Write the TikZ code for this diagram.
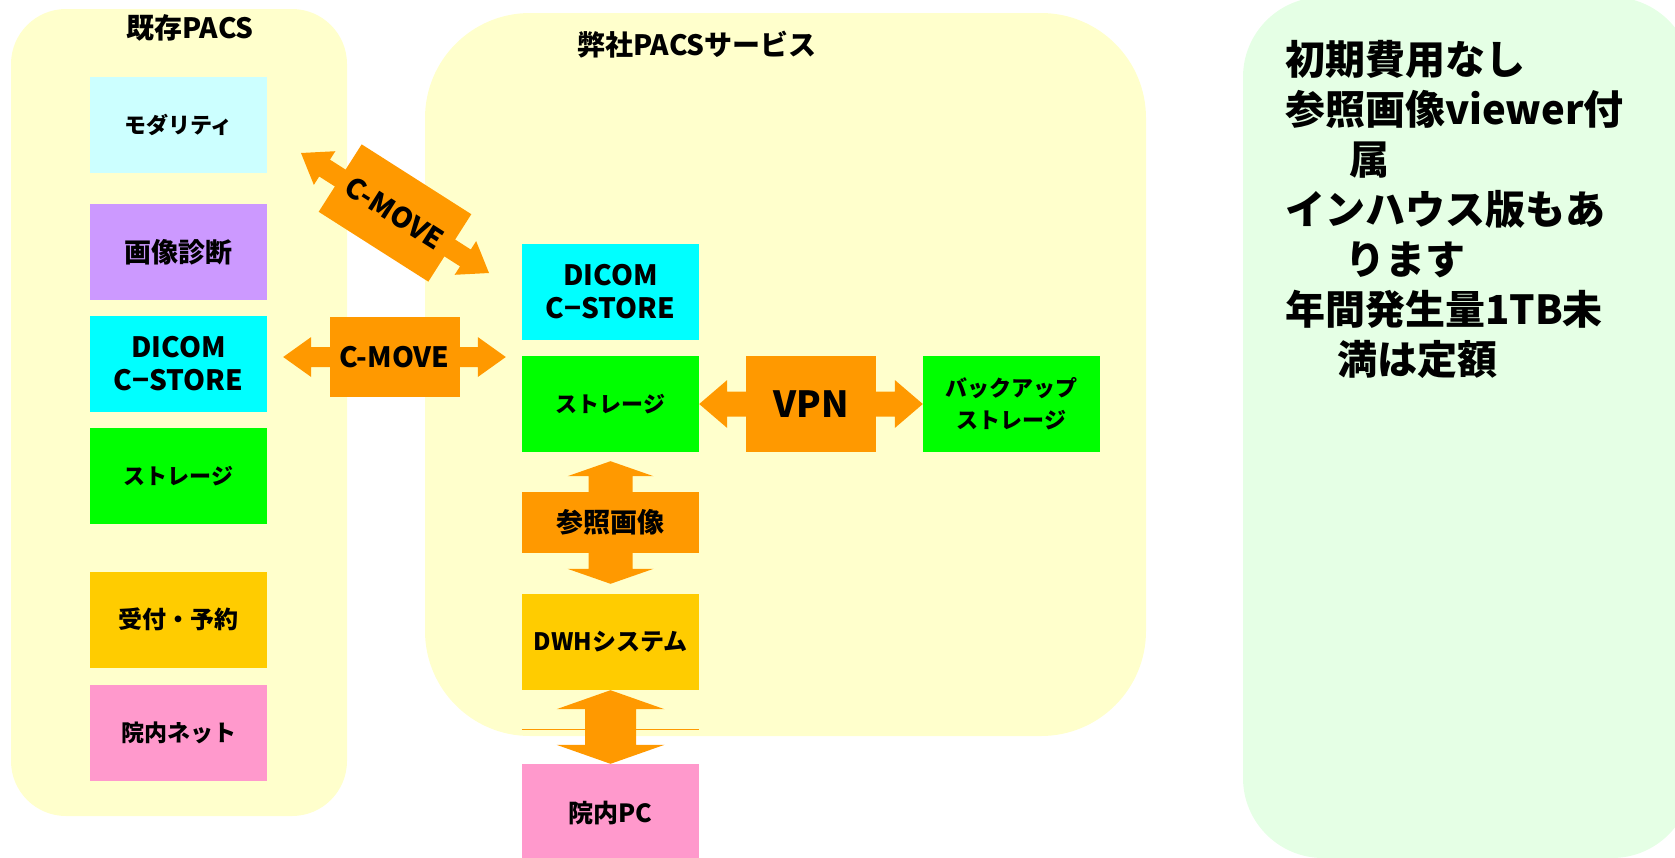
\documentclass[tikz,border=0pt]{standalone}
\usepackage{fontspec}
\setmainfont{Noto Sans CJK JP}
\usepackage{tikz}
\usetikzlibrary{calc}
\definecolor{panelyellow}{RGB}{255,255,204}
\definecolor{panelgreen}{RGB}{229,255,229}
\definecolor{moveorange}{RGB}{255,153,0}
\definecolor{modcyan}{RGB}{204,255,255}
\definecolor{diaglilac}{RGB}{204,153,255}
\definecolor{dicomcyan}{RGB}{0,255,255}
\definecolor{storgreen}{RGB}{0,255,0}
\definecolor{dwhamber}{RGB}{255,204,0}
\definecolor{netpink}{RGB}{255,153,204}
\tikzset{
  unit/.style={rectangle, inner sep=0pt, minimum width=177, minimum height=96,
    align=center, font=\fontsize{22}{32}\selectfont\bfseries},
  dicomtext/.style={font=\fontsize{28}{33}\selectfont\bfseries},
  kanjitext/.style={font=\fontsize{27}{32}\selectfont\bfseries},
  title/.style={font=\fontsize{28}{32}\selectfont\bfseries},
  movebox/.style={fill=moveorange, inner sep=0pt, minimum width=130, minimum height=80,
    font=\fontsize{28}{32}\selectfont\bfseries},
}
% double block arrow between two points: head half width, shaft half width, head length
\newcommand{\blockarrow}[5]{%
  \fill[moveorange] (#1)
    -- ($(#1)!#5!(#2)!#3!90:(#2)$) -- ($(#1)!#5!(#2)!#4!90:(#2)$)
    -- ($(#2)!#5!(#1)!#4!-90:(#1)$) -- ($(#2)!#5!(#1)!#3!-90:(#1)$)
    -- (#2)
    -- ($(#2)!#5!(#1)!#3!90:(#1)$) -- ($(#2)!#5!(#1)!#4!90:(#1)$)
    -- ($(#1)!#5!(#2)!#4!-90:(#2)$) -- ($(#1)!#5!(#2)!#3!-90:(#2)$)
    -- cycle;
}

\begin{document}
\begin{tikzpicture}[x=1pt,y=-1pt]
    \useasboundingbox (0,0) rectangle (1675,857);
    % panels
    \fill[panelyellow, rounded corners=55] (11,9) rectangle (347,816);
    \fill[panelyellow, rounded corners=105] (425,13) rectangle (1146,736);
    \fill[panelgreen, rounded corners=80] (1243,-3) rectangle (1692,858);
    \node[title] (oldtitle) at (190,28) {既存PACS};
    \node[title] (newtitle) at (697,45) {弊社PACSサービス};

    % existing PACS
    \node[unit, fill=modcyan] (modality) at (178.5,124.5) {モダリティ};
    \node[unit, kanjitext, fill=diaglilac] (diagnosis) at (178.5,252) {画像診断};
    \node[unit, dicomtext, fill=dicomcyan] (dicomA) at (178.5,364) {DICOM\\C−STORE};
    \node[unit, fill=storgreen] (storA) at (178.5,476) {ストレージ};
    \node[unit, font=\fontsize{24}{32}\selectfont\bfseries, fill=dwhamber] (reception) at (178.5,619.5) {受付・予約};
    \node[unit, font=\fontsize{23}{32}\selectfont\bfseries, fill=netpink] (lan) at (178.5,732.5) {院内ネット};

    % service side
    \node[unit, dicomtext, fill=dicomcyan] (dicomB) at (610.5,292) {DICOM\\C−STORE};
    \node[unit, fill=storgreen] (storB) at (610.5,404) {ストレージ};
    \node[unit, font=\fontsize{24}{32}\selectfont\bfseries, fill=dwhamber] (dwh) at (610.5,642) {DWHシステム};
    \node[unit, font=\fontsize{25}{32}\selectfont\bfseries, fill=netpink, minimum height=98] (pc) at (610.5,813) {院内PC};
    \node[unit, fill=storgreen] (backup) at (1011.5,404) {バックアップ\\ストレージ};

    % C-MOVE arrows
    \coordinate (m1a) at (301,153);
    \coordinate (m1b) at (489,273);
    \blockarrow{m1a}{m1b}{20pt}{10pt}{28pt}
    \node[movebox, rotate=-32.5] (move1) at ($(m1a)!0.5!(m1b)$) {C-MOVE};
    \coordinate (m2a) at ([xshift=16]dicomA.east |- 0,357);
    \coordinate (m2b) at ([xshift=-16]storB.west |- 0,357);
    \blockarrow{m2a}{m2b}{20pt}{10pt}{28pt}
    \node[movebox] (move2) at ($(m2a)!0.5!(m2b)$) {C-MOVE};

    % VPN
    \blockarrow{storB.east}{backup.west}{24pt}{12.5pt}{28pt}
    \node[movebox, minimum height=96, font=\fontsize{36}{40}\selectfont\bfseries] (vpn)
        at ($(storB.east)!0.5!(backup.west)$) {VPN};

    % reference images and the PC link
    \coordinate (r1) at ([yshift=-9]storB.south);
    \coordinate (r2) at ([yshift=10]dwh.north);
    \blockarrow{r1}{r2}{43pt}{22pt}{15pt}
    \node[movebox, kanjitext, minimum width=177, minimum height=61] (refimg)
        at ($(r1)!0.5!(r2)$) {参照画像};
    \draw[moveorange, line width=0.8pt] (dwh.west |- 0,729) -- (dwh.east |- 0,729);
    \blockarrow{dwh.south}{pc.north}{54pt}{25.5pt}{19pt}

    % notes
    \node[anchor=north west, inner sep=0pt, align=left,
        font=\fontsize{40}{50}\selectfont\bfseries] (notes) at (1285,40)
        {初期費用なし\\参照画像viewer付\\\hspace*{1.6em}属\\インハウス版もあ\\\hspace*{1.5em}ります\\年間発生量1TB未\\\hspace*{1.3em}満は定額};
\end{tikzpicture}
\end{document}
